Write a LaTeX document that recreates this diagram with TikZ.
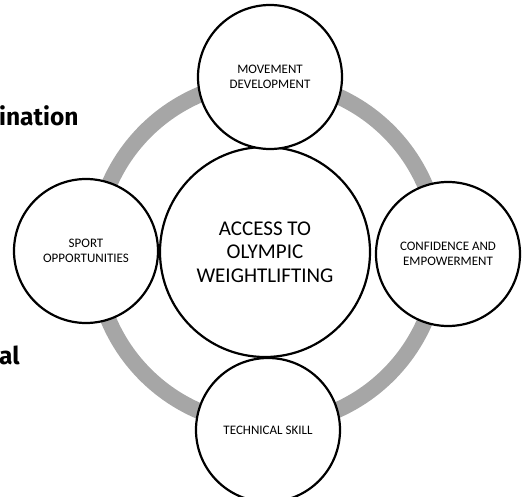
\documentclass[tikz,border=0pt]{standalone}
\usepackage{fontspec}
\setmainfont{Carlito}
\newfontfamily\pagefont{Fira Sans}
\definecolor{ringgray}{HTML}{A6A6A6}
\begin{document}
\begin{tikzpicture}[x=1pt,y=-1pt,
  satellite/.style={circle, draw=black, line width=2.2pt, fill=white,
    minimum size=144pt, inner sep=0pt, align=center,
    font=\fontsize{13}{15}\selectfont},
  hubnode/.style={circle, draw=black, line width=2.2pt, fill=white,
    minimum size=210pt, inner sep=0pt, align=center,
    font=\fontsize{21}{23.5}\selectfont},
  fragment/.style={anchor=base west, inner sep=0pt,
    font=\pagefont\bfseries\fontsize{24.5}{29}\selectfont}]
\useasboundingbox (0,0) rectangle (528,497);

% words of the surrounding page text
\node[fragment] (fragA) at (-1,126) {ination};
\node[fragment] (fragB) at (-1,364) {al};

% grey cycle ring behind the circles
\coordinate (ringc) at (267,253);
\draw[ringgray, line width=16pt] (ringc) circle[radius=172];

% central hub
\node[hubnode] (hub) at (265,252) {ACCESS TO\\OLYMPIC\\WEIGHTLIFTING};

% satellites around the ring
\node[satellite] (move)  at (270,77)  {MOVEMENT\\DEVELOPMENT};
\node[satellite] (conf)  at (448,254) {CONFIDENCE AND\\EMPOWERMENT};
\node[satellite] (tech)  at (268,430) {TECHNICAL SKILL};
\node[satellite] (sport) at (86,251)  {SPORT\\OPPORTUNITIES};
\end{tikzpicture}
\end{document}
